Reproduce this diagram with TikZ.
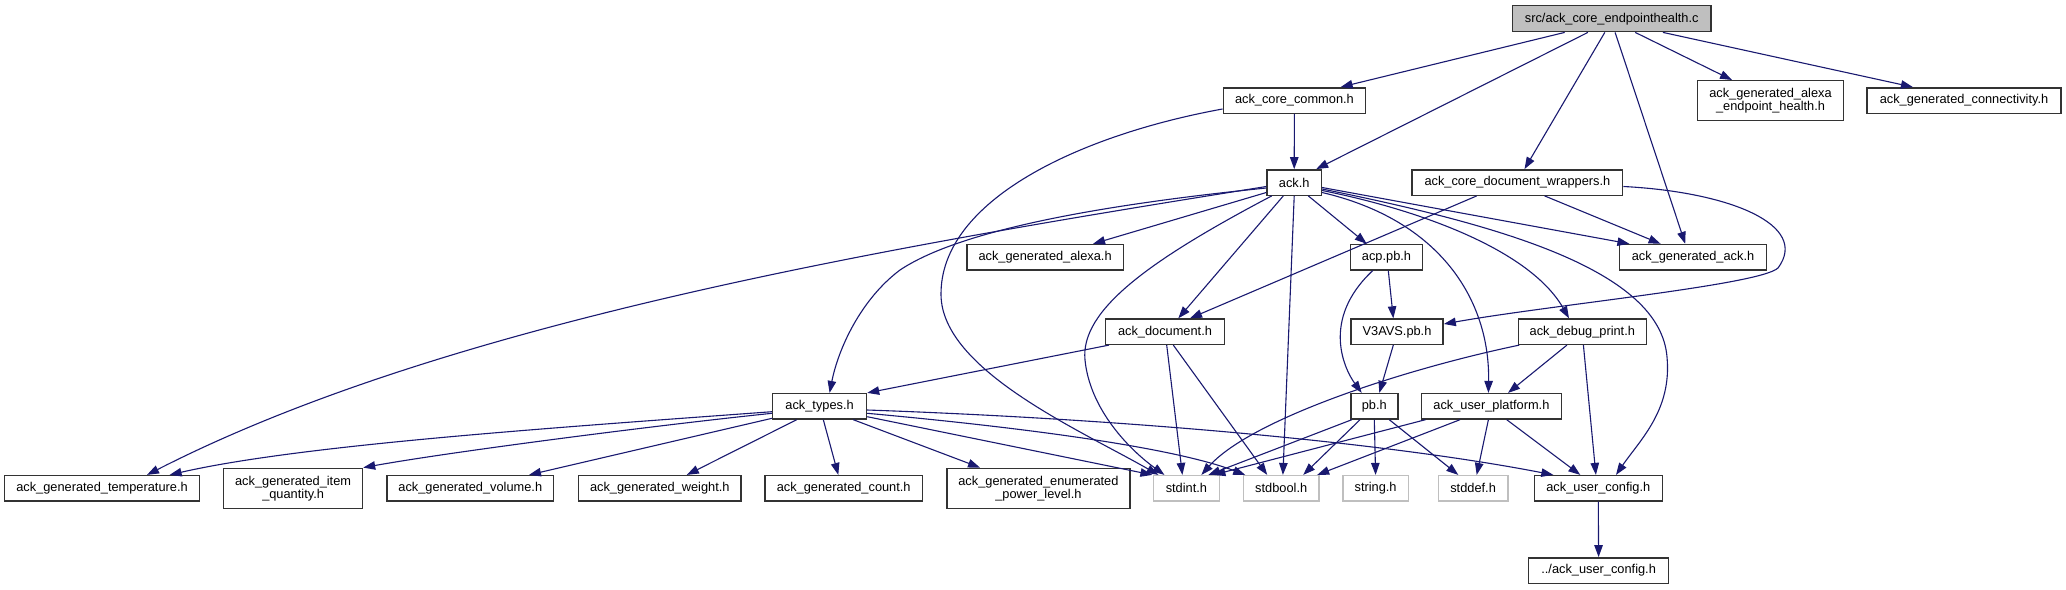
\documentclass[tikz,border=0pt]{standalone}
\usepackage{fontspec}
\setmainfont{Liberation Sans}
\usetikzlibrary{arrows.meta}
\definecolor{edgeblue}{HTML}{191970}
\definecolor{boxc}{HTML}{333333}
\definecolor{lightc}{HTML}{BFBFBF}
\definecolor{srcfill}{HTML}{BFBFBF}
\tikzset{
  box/.style={draw=boxc, line width=1.4pt, fill=white, inner sep=0pt,
    minimum height=25.4pt, align=center,
    font=\fontsize{12.8}{13.6}\selectfont},
  tallbox/.style={box, minimum height=40.4pt},
  sysbox/.style={box, draw=lightc},
  edge/.style={draw=edgeblue, line width=1.1pt,
    -{Triangle[length=12pt,width=8.5pt]}},
}
\begin{document}
\begin{tikzpicture}[x=1pt,y=-1pt]
\useasboundingbox[fill=white] (0,0) rectangle (2066,589);

% nodes
\node[box, fill=srcfill, minimum width=198.6pt, minimum height=26pt] (S) at (1611.7,18.7) {src/ack\_core\_endpointhealth.c};
\node[tallbox, minimum width=145.5pt, minimum height=39.6pt] (AEH) at (1770.5,100.5) {ack\_generated\_alexa\\\_endpoint\_health.h};
\node[box, minimum width=194pt] (CONN) at (1964,100.5) {ack\_generated\_connectivity.h};
\node[box, minimum width=142.4pt] (COMMON) at (1294.4,100.5) {ack\_core\_common.h};
\node[box, minimum width=54.4pt] (ACK) at (1294.2,182.5) {ack.h};
\node[box, minimum width=210.7pt] (WRAP) at (1517.4,182.5) {ack\_core\_document\_wrappers.h};
\node[box, minimum width=156.2pt] (GALEXA) at (1045.1,257.2) {ack\_generated\_alexa.h};
\node[box, minimum width=72.3pt] (ACP) at (1386.5,257.2) {acp.pb.h};
\node[box, minimum width=146.8pt] (GACK) at (1693,257.2) {ack\_generated\_ack.h};
\node[box, minimum width=119.2pt] (DOC) at (1165,331.7) {ack\_document.h};
\node[box, minimum width=92.3pt] (V3) at (1397,331.7) {V3AVS.pb.h};
\node[box, minimum width=128.2pt] (DEBUG) at (1582.3,331.7) {ack\_debug\_print.h};
\node[box, minimum width=93.8pt] (TYPES) at (819.6,406.3) {ack\_types.h};
\node[box, minimum width=47pt] (PB) at (1374.3,406.3) {pb.h};
\node[box, minimum width=140.1pt] (PLAT) at (1491.4,406.3) {ack\_user\_platform.h};
\node[box, minimum width=195.1pt] (TEMP) at (102,488.3) {ack\_generated\_temperature.h};
\node[tallbox, minimum width=138.8pt] (ITEM) at (293.1,488.5) {ack\_generated\_item\\\_quantity.h};
\node[box, minimum width=166.6pt] (VOL) at (470.3,488.3) {ack\_generated\_volume.h};
\node[box, minimum width=162.4pt] (WEIGHT) at (659.8,488.3) {ack\_generated\_weight.h};
\node[box, minimum width=157.1pt] (COUNT) at (843.7,488.3) {ack\_generated\_count.h};
\node[tallbox, minimum width=183pt] (ENUM) at (1038.4,488.5) {ack\_generated\_enumerated\\\_power\_level.h};
\node[sysbox, minimum width=65.6pt] (STDINT) at (1186.4,488.3) {stdint.h};
\node[sysbox, minimum width=75.8pt] (STDBOOL) at (1281.2,488.3) {stdbool.h};
\node[sysbox, minimum width=65.5pt] (STRING) at (1375.6,488.3) {string.h};
\node[sysbox, minimum width=69.7pt] (STDDEF) at (1473.1,488.3) {stddef.h};
\node[box, minimum width=128.1pt] (UCONF) at (1598.3,488.3) {ack\_user\_config.h};
\node[box, minimum width=140.2pt] (UCONF2) at (1598.6,570.5) {../ack\_user\_config.h};

% edges from source file
\draw[edge] ([xshift=-47pt]S.south) -- ([xshift=46.2pt]COMMON.north);
\draw[edge] ([xshift=-23.8pt]S.south) -- ([xshift=22pt]ACK.north);
\draw[edge] ([xshift=-6.9pt]S.south) -- ([xshift=7.1pt]WRAP.north);
\draw[edge] ([xshift=3.4pt]S.south) -- ([xshift=-7.8pt]GACK.north);
\draw[edge] ([xshift=23.5pt]S.south) -- ([xshift=-38.5pt]AEH.north);
\draw[edge] ([xshift=51.2pt]S.south) -- ([xshift=-51.1pt]CONN.north);

% ack_core_common.h
\draw[edge] (COMMON.south) -- (ACK.north);
\draw[edge] ([yshift=-8.5pt]COMMON.west) .. controls (1080,135) and (940,200) .. (941,295)
  .. controls (942,370) and (1080,430) .. ([xshift=-28pt]STDINT.north);

% ack.h
\draw[edge] ([yshift=-4pt]ACK.west) .. controls (900,245) and (450,320) .. ([xshift=45pt]TEMP.north);
\draw[edge] ([yshift=-5.5pt]ACK.west) .. controls (1100,205) and (960,230) .. (900,270)
  .. controls (860,300) and (838,350) .. ([xshift=10pt]TYPES.north);
\draw[edge] ([yshift=-10pt]ACK.west) -- ([xshift=48pt]GALEXA.north);
\draw[edge] ([xshift=-10.9pt]ACK.south) -- ([xshift=13.3pt]DOC.north);
\draw[edge] ([xshift=-22.5pt]ACK.south) .. controls (1150,260) and (1080,310) .. (1085,360)
  .. controls (1090,410) and (1130,450) .. ([xshift=-22pt]STDINT.north);
\draw[edge] (ACK.south) -- ([xshift=1.7pt]STDBOOL.north);
\draw[edge] ([xshift=14.1pt]ACK.south) -- ([xshift=-19.8pt]ACP.north);
\draw[edge] ([yshift=-5pt]ACK.east) -- ([xshift=-63.6pt]GACK.north);
\draw[edge] ([yshift=-6.5pt]ACK.east) .. controls (1500,225) and (1660,270) .. (1667,357)
  .. controls (1672,410) and (1640,440) .. ([xshift=17.7pt]UCONF.north);
\draw[edge] ([yshift=-8pt]ACK.east) .. controls (1420,210) and (1530,250) .. ([xshift=-13.3pt]DEBUG.north);
\draw[edge] ([yshift=-10pt]ACK.east) .. controls (1440,220) and (1490,300) .. ([xshift=-3pt]PLAT.north);

% ack_core_document_wrappers.h
\draw[edge] ([xshift=-40.7pt]WRAP.south) -- ([xshift=25pt]DOC.north);
\draw[edge] ([xshift=27.2pt]WRAP.south) -- ([xshift=-32.4pt]GACK.north);
\draw[edge] ([yshift=-4pt]WRAP.east) .. controls (1730,192) and (1810,225) .. (1778,268)
  .. controls (1760,285) and (1550,305) .. ([yshift=7.7pt]V3.east);

% acp.pb.h
\draw[edge] ([xshift=1.8pt]ACP.south) -- ([xshift=-3.7pt]V3.north);
\draw[edge] ([xshift=-13.8pt]ACP.south) .. controls (1320,320) and (1345,370) .. ([xshift=-12.6pt]PB.north);

% ack_document.h
\draw[edge] ([xshift=-56pt]DOC.south) -- (TYPES.north east);
\draw[edge] ([xshift=1.7pt]DOC.south) -- ([xshift=-4pt]STDINT.north);
\draw[edge] ([xshift=8.3pt]DOC.south) -- ([xshift=-14pt]STDBOOL.north);

% V3AVS.pb.h
\draw[edge] ([xshift=-3.7pt]V3.south) -- ([xshift=5pt]PB.north);

% ack_debug_print.h
\draw[edge] ([xshift=-63pt]DEBUG.south) .. controls (1400,370) and (1250,420) .. ([xshift=15pt]STDINT.north);
\draw[edge] ([xshift=-15.4pt]DEBUG.south) -- ([xshift=16.6pt]PLAT.north);
\draw[edge] ([xshift=1.1pt]DEBUG.south) -- ([xshift=-2.4pt]UCONF.north);

% ack_types.h
\draw[edge] ([yshift=-5.4pt]TYPES.west) .. controls (550,428) and (300,445) .. ([xshift=67.6pt]TEMP.north);
\draw[edge] ([yshift=-7pt]TYPES.west) .. controls (650,426) and (450,452) .. (ITEM.north east);
\draw[edge] ([yshift=-12pt]TYPES.west) -- ([xshift=58.7pt]VOL.north);
\draw[edge] ([xshift=-22.9pt]TYPES.south) -- ([xshift=27pt]WEIGHT.north);
\draw[edge] ([xshift=3.7pt]TYPES.south) -- ([xshift=-5.4pt]COUNT.north);
\draw[edge] ([xshift=33.7pt]TYPES.south) -- ([xshift=-58.4pt]ENUM.north);
\draw[edge] ([yshift=-10.4pt]TYPES.east) -- ([xshift=-34pt]STDINT.north);
\draw[edge] ([yshift=-7pt]TYPES.east) .. controls (1050,430) and (1180,450) .. ([xshift=-36pt]STDBOOL.north);
\draw[edge] ([yshift=-3.7pt]TYPES.east) .. controls (1150,420) and (1400,445) .. ([xshift=-45pt]UCONF.north);

% pb.h
\draw[edge] ([xshift=-22.5pt]PB.south) -- ([xshift=22pt]STDINT.north);
\draw[edge] ([xshift=-14.3pt]PB.south) -- ([xshift=22pt]STDBOOL.north);
\draw[edge] (PB.south) -- (STRING.north);
\draw[edge] ([xshift=15pt]PB.south) -- ([xshift=-14.8pt]STDDEF.north);

% ack_user_platform.h
\draw[edge] ([xshift=-66pt]PLAT.south) -- ([xshift=27pt]STDINT.north);
\draw[edge] ([xshift=-31.4pt]PLAT.south) -- ([xshift=36pt]STDBOOL.north);
\draw[edge] ([xshift=-3pt]PLAT.south) -- ([xshift=3.6pt]STDDEF.north);
\draw[edge] ([xshift=15.3pt]PLAT.south) -- ([xshift=-18pt]UCONF.north);

% ack_user_config.h
\draw[edge] (UCONF.south) -- (UCONF2.north);
\end{tikzpicture}
\end{document}
